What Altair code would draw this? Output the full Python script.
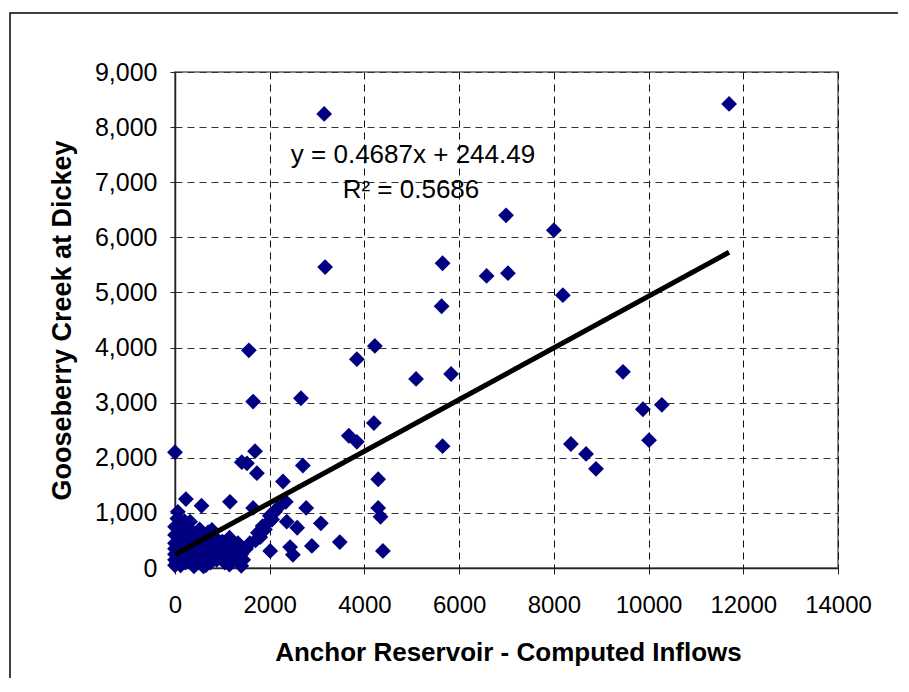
import altair as alt
import pandas as pd

# Scatter data: Anchor Reservoir computed inflows (x) vs Gooseberry Creek at Dickey (y)
inflow = [
    3150, 11700, 6990, 8000, 3170, 5650, 6580, 7030, 5630, 8190,
    1560, 4220, 3840, 5090, 5830, 9460, 1650, 2660, 3670, 3840,
    4200, 5650, 9880, 10280, 10010, 8360, 8680, 8890, 0, 1690,
    1410, 1520, 1730, 2700, 4290, 2280, 4290, 4340, 4390, 3480,
    3080, 2890, 2770, 2340, 2360, 2580, 2430, 2490, 2010, 2170,
    2110, 1650, 1160, 560, 230, 60,
    1960, 1750, 1580, 1330, 1440, 1120, 2000, 1850, 1900, 2050,
    1800, 1700, 1500, 1250, 1400,
    0, 0, 0, 0, 0, 0, 0, 40, 50, 80,
    100, 100, 120, 150, 150, 180, 200, 220, 250, 280,
    300, 320, 350, 380, 400, 420, 450, 480, 500, 520,
    550, 600, 620, 650, 680, 700, 720, 750, 780, 800,
    830, 850, 880, 900, 950, 1000, 1050, 1080, 1150, 1200,
    1250, 1300, 600, 1400, 1150,
]
gooseberry = [
    8240, 8420, 6400, 6130, 5460, 5530, 5300, 5350, 4750, 4950,
    3950, 4030, 3790, 3430, 3520, 3560, 3020, 3080, 2400, 2290,
    2630, 2210, 2880, 2960, 2320, 2250, 2070, 1800, 2100, 2120,
    1920, 1900, 1720, 1860, 1610, 1570, 1090, 930, 310, 470,
    810, 400, 1090, 1200, 840, 730, 380, 240, 310, 1090,
    1020, 1090, 1200, 1130, 1250, 1020,
    820, 640, 450, 450, 150, 150, 950, 760, 700, 880,
    560, 500, 350, 300, 250,
    50, 150, 250, 350, 450, 600, 750, 100, 900, 300,
    500, 700, 50, 200, 400, 620, 850, 100, 300, 500,
    720, 840, 150, 400, 30, 600, 250, 450, 100, 700,
    350, 200, 550, 50, 400, 650, 250, 100, 690, 450,
    300, 550, 150, 350, 250, 480, 100, 380, 550, 320,
    180, 420, 30, 40, 60,
]

# Trendline as printed on the chart
slope = 0.4687
intercept = 244.49
equation = "y = 0.4687x + 244.49"
r2_label = "R² = 0.5686"

x_ticks = [0, 2000, 4000, 6000, 8000, 10000, 12000, 14000]
y_ticks = [0, 1000, 2000, 3000, 4000, 5000, 6000, 7000, 8000, 9000]

pts = pd.DataFrame({"x": inflow, "y": gooseberry})
x_lo, x_hi = min(inflow), max(inflow)
trend = pd.DataFrame({"x": [x_lo, x_hi],
                      "y": [slope * x_lo + intercept, slope * x_hi + intercept]})

FONT = "Liberation Sans"

xscale = alt.Scale(domain=[0, 14000], nice=False, zero=False)
yscale = alt.Scale(domain=[0, 9000], nice=False, zero=False)

x_axis = alt.Axis(
    values=x_ticks, format="d", title="Anchor Reservoir - Computed Inflows",
    grid=True, gridDash=[7, 5], gridColor="#111", gridWidth=1,
    domainColor="#222", domainWidth=1.5, tickColor="#222", tickSize=6,
    labelFont=FONT, labelFontSize=24, labelColor="#000", labelPadding=31,
    labelBaseline="middle", labelFlush=False,
    titleFont=FONT, titleFontSize=26, titleFontWeight="bold", titleColor="#000",
    titleX=333, titleY=84, titleBaseline="middle",
)
y_axis = alt.Axis(
    values=y_ticks, format=",.0f", title="Gooseberry Creek at Dickey",
    grid=True, gridDash=[7, 5], gridColor="#333", gridWidth=1,
    domainColor="#222", domainWidth=1.5, tickColor="#222", tickSize=5,
    labelFont=FONT, labelFontSize=25, labelColor="#000", labelPadding=13,
    labelFlush=False,
    titleFont=FONT, titleFontSize=27, titleFontWeight="bold", titleColor="#000",
    titleX=-113, titleY=248, titleAngle=270, titleBaseline="middle",
)

frame = alt.Chart(pd.DataFrame({"k": [0]})).mark_rect(
    fill=None, stroke="#000", strokeWidth=1.5, clip=False
).encode(
    x=alt.value(-165), x2=alt.value(730), y=alt.value(-59), y2=alt.value(640)
)

points = alt.Chart(pts).mark_point(
    shape="diamond", filled=True, color="#000080", size=250, opacity=1
).encode(
    x=alt.X("x:Q", scale=xscale, axis=x_axis),
    y=alt.Y("y:Q", scale=yscale, axis=y_axis),
)

line = alt.Chart(trend).mark_line(color="#000", strokeWidth=5).encode(
    x=alt.X("x:Q", scale=xscale), y=alt.Y("y:Q", scale=yscale)
)

eq1 = alt.Chart(pd.DataFrame({"t": [equation]})).mark_text(
    font=FONT, fontSize=26, color="#000", align="center", baseline="middle"
).encode(text="t:N", x=alt.value(238), y=alt.value(83))
eq2 = alt.Chart(pd.DataFrame({"t": [r2_label]})).mark_text(
    font=FONT, fontSize=26, color="#000", align="center", baseline="middle"
).encode(text="t:N", x=alt.value(236), y=alt.value(118))

chart = alt.layer(frame, points, line, eq1, eq2).properties(
    width=663, height=496,
    padding={"left": 167, "top": 64, "right": 60, "bottom": 110},
    autosize=alt.AutoSizeParams(type="none"),
    background="white",
).configure_view(
    stroke="#888", strokeWidth=2
)

chart.save("out.html", embed_options={"renderer": "svg", "actions": False})
